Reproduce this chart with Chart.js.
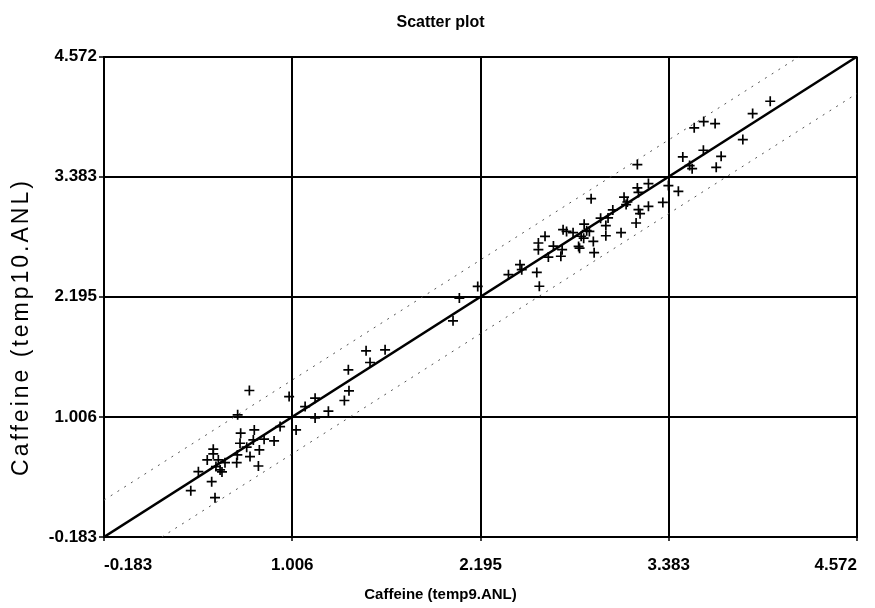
<!DOCTYPE html>
<html><head><meta charset="utf-8">
<script src="https://cdn.jsdelivr.net/npm/chart.js@4.4.1/dist/chart.umd.min.js"></script>
<style>html,body{margin:0;padding:0;background:#fff;}canvas{display:block;}</style>
</head><body>
<canvas id="c" width="875" height="608"></canvas>
<script>
const chartTitle = 'Scatter plot';
const xAxisTitle = 'Caffeine (temp9.ANL)';
const yAxisTitle = 'Caffeine (temp10.ANL)';
const tickValues = [-0.183, 1.006, 2.195, 3.383, 4.572];
const tickLabels = ['-0.183', '1.006', '2.195', '3.383', '4.572'];

const xValues = [
  0.735, 0.986, 0.661, 1.087, 1.150, 1.234, 1.150, 1.335, 1.360, 1.364, 1.030, 0.929,
  0.680, 0.766, 0.676, 0.760, 0.828, 0.891, 0.507, 0.507, 0.718, 0.798, 0.659, 0.739,
  0.655, 0.792, 0.469, 0.539, 0.581, 0.550, 0.413, 0.497, 0.365, 0.518, 0.524, 0.562,
  1.472, 1.592, 1.497, 2.021, 2.061, 2.177, 2.371, 2.444, 2.455, 2.550, 2.566, 2.623,
  2.702, 2.560, 2.560, 2.602, 2.655, 2.716, 2.738, 2.779, 2.710, 2.814, 2.820, 2.830,
  2.846, 2.849, 2.865, 2.882, 2.907, 2.912, 2.893, 2.953, 3.000, 2.986, 2.986, 3.082,
  3.030, 3.101, 3.122, 3.114, 3.185, 3.185, 3.192, 3.255, 3.192, 3.202, 3.177, 3.255,
  3.346, 3.381, 3.444,
  3.472, 3.515, 3.531, 3.544, 3.604, 3.676, 3.602, 3.714, 3.683, 3.851, 3.913, 4.024
];
const yValues = [
  1.267, 1.207, 1.026, 1.108, 1.191, 1.062, 0.996, 1.168, 1.472, 1.264, 0.877, 0.910,
  0.845, 0.877, 0.745, 0.778, 0.785, 0.768, 0.686, 0.639, 0.706, 0.679, 0.629, 0.613,
  0.553, 0.520, 0.580, 0.580, 0.553, 0.481, 0.464, 0.365, 0.276, 0.206, 0.514, 0.461,
  1.660, 1.670, 1.544, 1.957, 2.182, 2.297, 2.413, 2.512, 2.463, 2.436, 2.299, 2.588,
  2.596, 2.727, 2.661, 2.793, 2.697, 2.859, 2.842, 2.829, 2.661, 2.693, 2.676, 2.794,
  2.775, 2.913, 2.849, 2.842, 2.743, 2.631, 3.166, 2.973, 2.975, 2.899, 2.799, 2.829,
  3.054, 3.181, 3.133, 3.107, 3.503, 3.272, 3.228, 3.315, 3.057, 3.017, 2.925, 3.090,
  3.129, 3.295, 3.238,
  3.579, 3.493, 3.463, 3.867, 3.929, 3.909, 3.645, 3.585, 3.476, 3.751, 4.008, 4.130
];

const fitX = [-0.183, 4.572];
const fitY = [-0.183, 4.572];
const upperX = [-0.183, 4.207];
const upperY = [0.182, 4.572];
const lowerX = [0.182, 4.572];
const lowerY = [-0.183, 4.207];

const pairs = (xs, ys) => xs.map((x, i) => ({ x: x, y: ys[i] }));

const sans = "'Liberation Sans', Arial, sans-serif";
const tickFont = { family: sans, size: 17, weight: 'bold' };
const titleFont = { family: sans, size: 16, weight: 'bold' };
const xTitleFont = { family: sans, size: 15, weight: 'bold' };

const bgPlugin = {
  id: 'bg',
  beforeDraw(chart) {
    const ctx = chart.ctx;
    ctx.save();
    ctx.fillStyle = '#fff';
    ctx.fillRect(0, 0, chart.width, chart.height);
    ctx.restore();
  }
};

const yTitlePlugin = {
  id: 'yTitle',
  afterDraw(chart) {
    const ctx = chart.ctx;
    ctx.save();
    ctx.translate(22, 327);
    ctx.rotate(-Math.PI / 2);
    ctx.font = "23px 'Liberation Sans', Arial, sans-serif";
    try { ctx.letterSpacing = '3px'; } catch (e) {}
    ctx.fillStyle = '#000';
    ctx.textAlign = 'center';
    ctx.textBaseline = 'middle';
    ctx.fillText(yAxisTitle, 0, 0);
    ctx.restore();
  }
};

const setTicks = s => { s.ticks = tickValues.map(v => ({ value: v })); };

new Chart(document.getElementById('c'), {
  type: 'scatter',
  data: {
    datasets: [
      {
        label: 'samples',
        data: pairs(xValues, yValues),
        showLine: false,
        pointStyle: 'cross',
        pointRadius: 5,
        pointBorderWidth: 1.7,
        borderColor: '#000',
        backgroundColor: '#000'
      },
      {
        label: 'fit',
        data: pairs(fitX, fitY),
        showLine: true,
        pointRadius: 0,
        borderColor: '#000',
        borderWidth: 2.5
      },
      {
        label: 'upper',
        data: pairs(upperX, upperY),
        showLine: true,
        pointRadius: 0,
        borderColor: '#555',
        borderWidth: 1,
        borderDash: [2, 6]
      },
      {
        label: 'lower',
        data: pairs(lowerX, lowerY),
        showLine: true,
        pointRadius: 0,
        borderColor: '#555',
        borderWidth: 1,
        borderDash: [2, 6]
      }
    ]
  },
  options: {
    responsive: false,
    animation: false,
    events: [],
    layout: { padding: { left: 24, right: 18, top: 0, bottom: 0 } },
    plugins: {
      legend: { display: false },
      tooltip: { enabled: false },
      title: {
        display: true, text: chartTitle, color: '#000',
        font: titleFont, padding: { top: 13.4, bottom: 24 }
      },
      subtitle: {
        display: true, position: 'bottom', text: xAxisTitle, color: '#000',
        font: xTitleFont, padding: { top: 0, bottom: 4 }
      }
    },
    scales: {
      x: {
        type: 'linear', min: -0.183, max: 4.572,
        afterBuildTicks: setTicks,
        afterFit: s => { s.height = 49; s.paddingLeft = 0; s.paddingRight = 0; },
        grid: { color: '#000', lineWidth: 2, drawTicks: true, tickLength: 4, tickColor: '#000', tickWidth: 1.5 },
        border: { display: true, color: '#000', width: 2 },
        ticks: {
          align: 'inner', padding: 14, color: '#000', font: tickFont,
          maxRotation: 0, autoSkip: false,
          callback: (v, i) => tickLabels[i]
        }
      },
      y: {
        type: 'linear', min: -0.183, max: 4.572,
        afterBuildTicks: setTicks,
        afterFit: s => { s.width = 80; },
        grid: { color: '#000', lineWidth: 2, drawTicks: true, tickLength: 5, tickColor: '#000', tickWidth: 1.5 },
        border: { display: true, color: '#000', width: 2 },
        ticks: {
          padding: 2, color: '#000', font: tickFont, autoSkip: false,
          callback: (v, i) => tickLabels[i]
        }
      }
    }
  },
  plugins: [bgPlugin, yTitlePlugin]
});
</script>
</body></html>
